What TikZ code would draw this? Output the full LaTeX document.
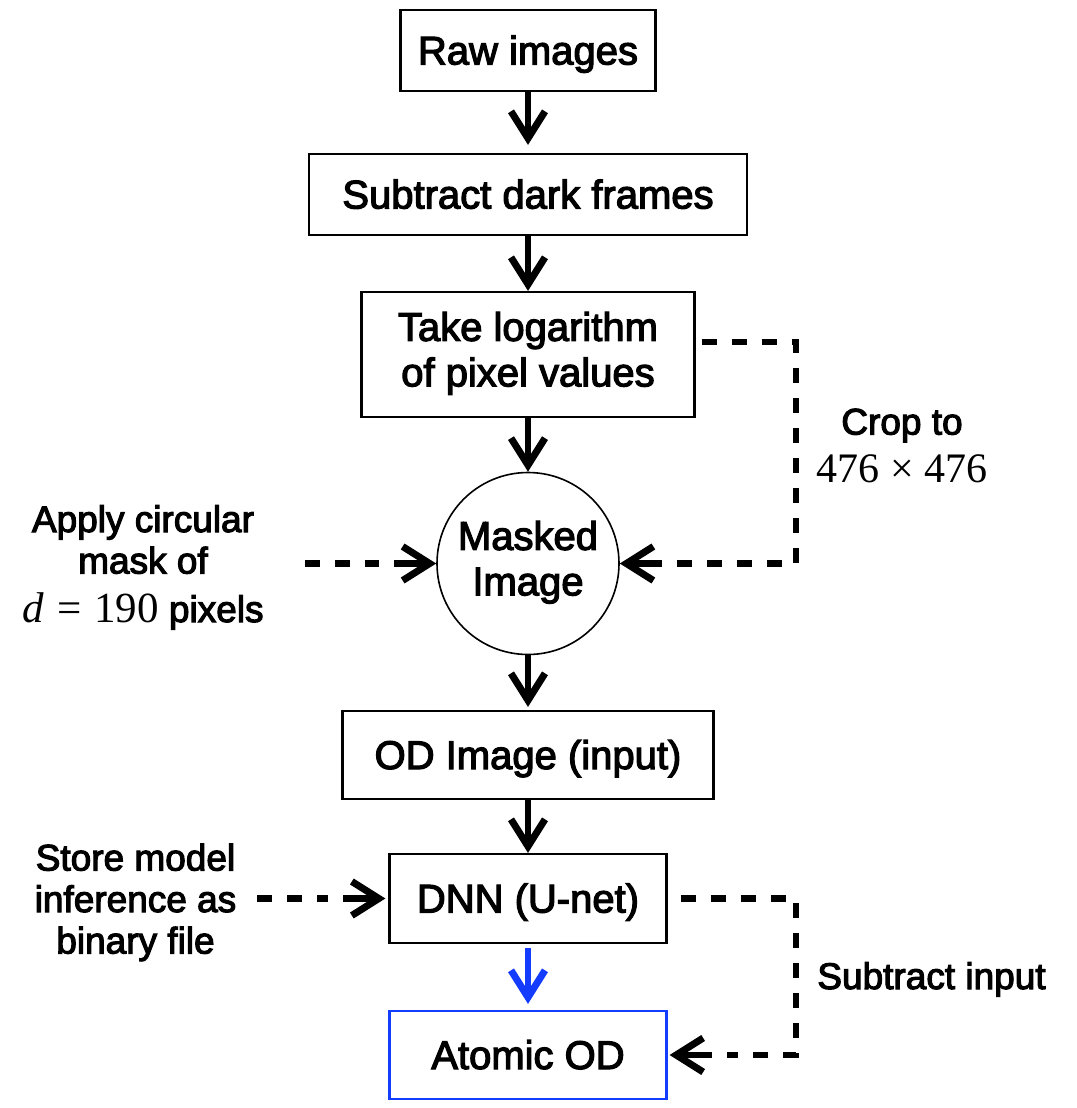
\documentclass[tikz,border=0pt]{standalone}
\usepackage{fontspec}
\setmainfont{Liberation Sans}[RawFeature={embolden=3}]
\newfontfamily\mathser{Liberation Serif}
\usetikzlibrary{arrows.meta,calc}
\definecolor{bluec}{RGB}{20,60,255}
\newcommand\bxfont{\fontsize{40}{45.5}\selectfont}
\newcommand\lbfont{\fontsize{37}{41.5}\selectfont}
\begin{document}
\begin{tikzpicture}[x=1pt,y=-1pt,
  box/.style={draw,line width=2.2pt,inner sep=0pt,font=\bxfont},
  onebox/.style={box,text height=28pt,text depth=0pt},
  arr/.style={line width=6.5pt,-{Straight Barb[length=27pt,width=34pt,line width=7pt]}},
  dsh/.style={line width=6.5pt,dash pattern=on 15pt off 15pt},
  lbl/.style={inner sep=0pt,font=\lbfont,align=center}]
\useasboundingbox (0,0) rectangle (1076,1108);
\node[onebox,minimum width=255pt,minimum height=81pt] (raw) at (528,50.5) {Raw images};
\node[onebox,minimum width=438pt,minimum height=81pt] (sub) at (528,194.5) {Subtract dark frames};
\node[box,align=center,minimum width=333pt,minimum height=125pt] (log) at (528,354.5) {\raisebox{-3pt}{\begin{tabular}{@{}c@{}}Take logarithm\\of pixel values\end{tabular}}};
\node[draw,circle,line width=1.6pt,minimum size=182pt,inner sep=0pt,align=center,font=\bxfont] (mask) at (528,563.5) {\raisebox{-5pt}{\begin{tabular}{@{}c@{}}Masked\\Image\end{tabular}}};
\node[onebox,minimum width=371pt,minimum height=88pt] (od) at (528,755) {OD Image (input)};
\node[onebox,minimum width=277pt,minimum height=89pt] (dnn) at (528,898.5) {DNN (U-net)};
\node[onebox,draw=bluec,minimum width=277pt,minimum height=88pt] (atom) at (528,1055) {Atomic OD};
% labels
\node[lbl,anchor=north] (apply) at (143,505) {Apply circular\\mask of\\[7pt]{\fontsize{43}{43}\mathser\itshape d}\hspace{14pt}{\fontsize{43}{43}\mathser =}\hspace{12pt}{\fontsize{43}{43}\mathser 190} pixels};
\node[lbl,anchor=north] (crop) at (902,408.5) {Crop to\\[6pt]{\fontsize{42}{42}\mathser 476 × 476}};
\node[lbl,anchor=north] (store) at (135.5,843.5) {Store model\\inference as\\binary file};
\node[lbl,anchor=base] (subin) at (931.5,989) {Subtract input};
% coordinates
\coordinate (cropa) at (796,342);
\coordinate (cropb) at (796,563.5);
\coordinate (appl) at (305,563.5);
\coordinate (stl) at (257,898.5);
\coordinate (suba) at (796,898.5);
\coordinate (subb) at (796,1055);
% solid arrows
\draw[arr,shorten >=8pt] (raw) -- (sub);
\draw[arr] (sub) -- (log);
\draw[arr] (log) -- (mask);
\draw[arr,shorten >=3pt] (mask) -- (od);
\draw[arr] (od) -- (dnn);
\draw[arr,color=bluec,shorten <=4pt,shorten >=6pt] (dnn) -- (atom);
% dashed connectors, each ending in a short solid arrow
\draw[dsh] ([xshift=6pt,yshift=12.5pt]log.east) -- (cropa) -- (cropb) -- ([xshift=57pt]mask.east);
\draw[arr] ([xshift=42pt]mask.east) -- (mask.east);
\draw[dsh] (appl) -- ([xshift=-57pt]mask.west);
\draw[arr] ([xshift=-42pt]mask.west) -- (mask.west);
\draw[dsh] (stl) -- ([xshift=-60pt]dnn.west);
\draw[arr,shorten >=3pt] ([xshift=-45pt]dnn.west) -- (dnn.west);
\draw[dsh] ([xshift=13pt]dnn.east) -- (suba) -- (subb) -- ([xshift=59pt]atom.east);
\draw[arr,shorten >=2pt] ([xshift=44pt]atom.east) -- (atom.east);
\end{tikzpicture}
\end{document}
